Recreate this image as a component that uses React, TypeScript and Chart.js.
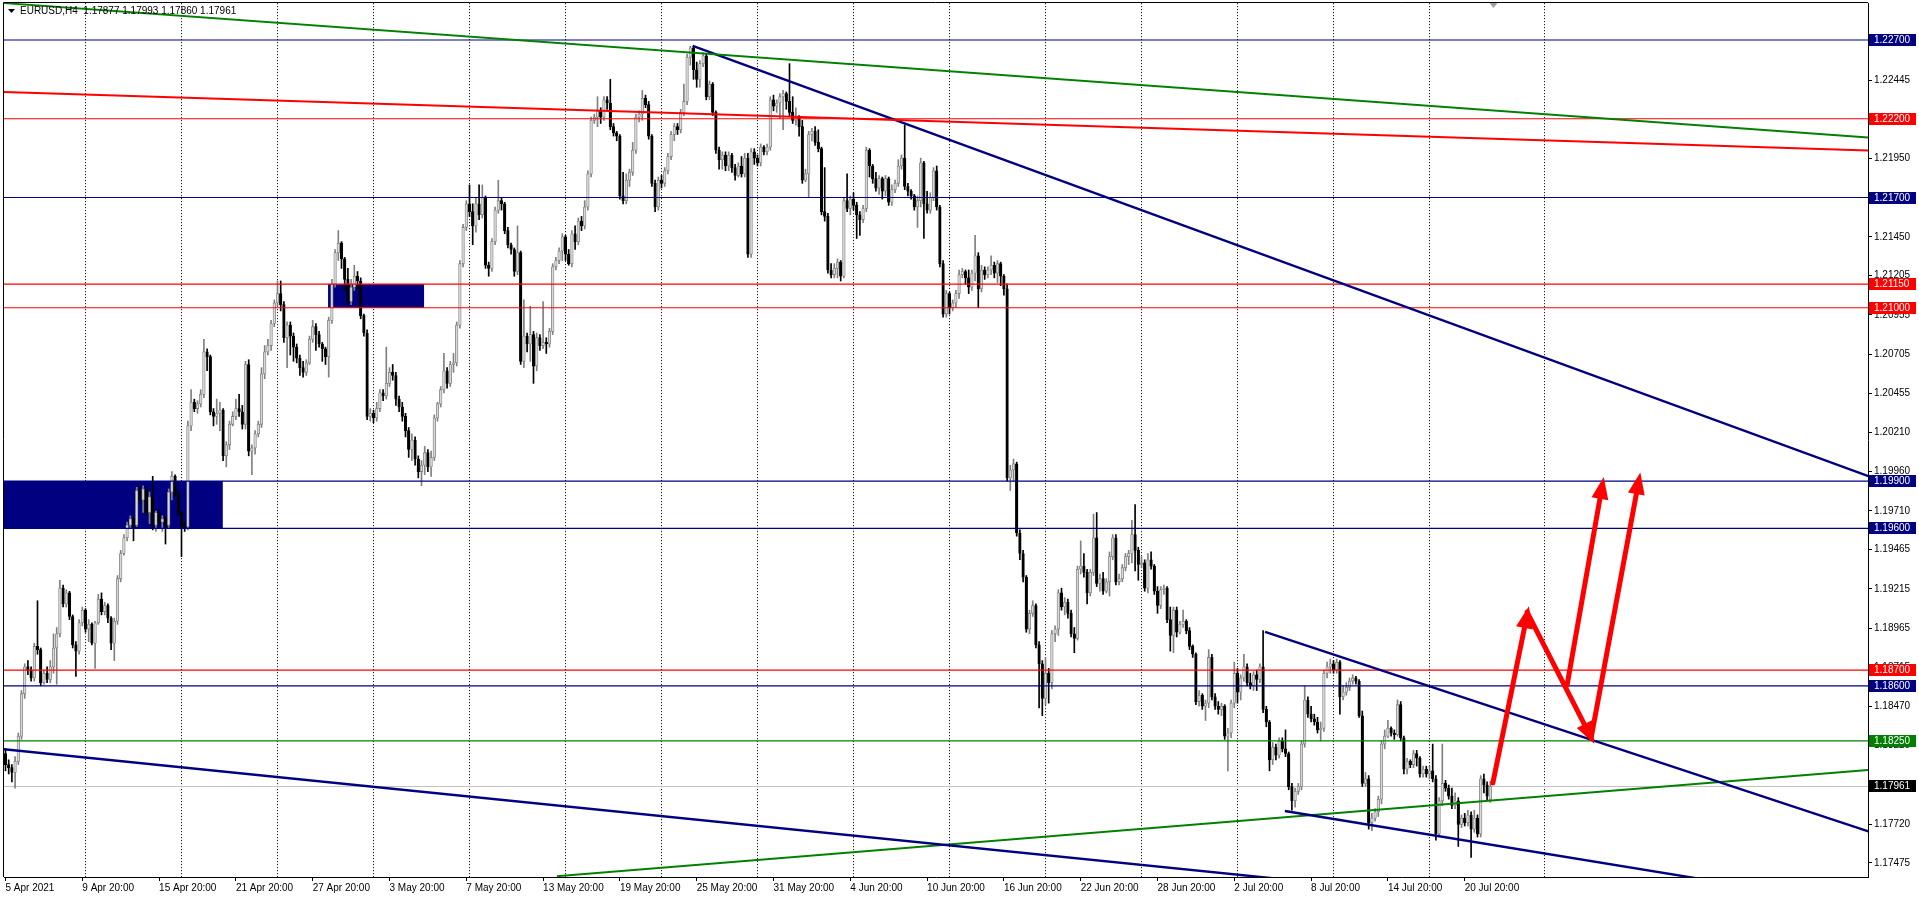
import React, { useEffect, useRef } from 'react';
import { Chart, registerables } from 'chart.js';

Chart.register(...registerables);

// ---------------- DATA ----------------
const BASE_PRICE = 1.17;
const PIP = 0.0001;
const FIRST_BAR = 5; // H4 bar index counted from 5 Apr 2021 00:00

// OHLC of every H4 bar, in pips above 1.17000
const OPEN_PIPS = [
  117,110,108,105,112,128,155,172,170,165, 185,183,162,168,164,172,184,193,222,212,
  219,204,186,182,200,208,196,199,187,200, 215,207,211,203,187,201,228,244,254,262,
  266,262,284,278,285,270,280,262,270,264, 266,262,283,293,282,270,262,261,325,340,
  336,339,345,372,369,334,331,333,335,306, 313,326,331,336,334,326,364,309,311,320,
  326,358,372,376,390,403,409,402,381,389, 382,375,368,362,359,365,380,388,383,377,
  374,369,392,415,435,441,431,418,404,413, 420,417,395,384,331,333,330,336,346,344,
  352,359,357,342,337,331,322,310,316,304, 296,300,308,299,305,330,339,348,360,352,
  364,365,389,428,451,466,461,452,466,459, 470,427,425,442,462,468,466,449,440,437,
  423,435,366,382,377,383,363,381,376,378, 377,385,426,430,436,445,434,428,447,442,
  455,452,464,485,519,521,525,521,532,530, 515,511,509,471,468,481,486,500,521,523,
  533,529,509,479,464,481,479,487,496,510, 515,513,524,531,559,565,551,545,555,560,
  534,542,524,500,494,497,490,497,489,484, 490,485,495,434,499,495,492,502,499,502,
  532,528,530,534,536,531,524,519,521,515, 481,485,510,512,505,501,461,458,424,421,
  425,429,420,468,463,469,465,459,456,463, 500,490,482,476,482,474,482,467,475,479,
  490,495,477,474,471,464,468,492,466,462, 470,487,464,428,396,409,400,403,409,421,
  423,419,413,422,433,412,424,421,424,427, 422,428,420,412,292,297,301,257,244,229,
  196,206,211,186,174,152,168,162,193,196, 219,210,213,206,193,190,234,236,232,219,
  232,254,225,228,220,226,242,254,226,228, 235,242,244,256,246,237,238,222,240,236,
  220,211,221,222,202,192,208,194,199,201, 195,185,180,150,154,147,149,178,153,147,
  145,147,128,130,149,168,156,165,172,162, 160,167,164,172,145,137,113,121,116,125,
  120,117,96,87,93,96,123,151,142,139, 137,132,133,168,172,174,170,175,153,156,
  159,163,165,163,141,98,101,73,76,80, 88,123,128,133,130,129,148,127,107,112,
  110,117,114,104,107,104,106,101,66,87, 98,95,90,84,87,72,76,73,78,69,
  76,66,101,97,87.7,
];
const HIGH_PIPS = [
  120,113,110,115,130,157,174,176,172,187, 214,184,170,172,176,193,197,227,224,221,
  220,205,188,202,210,209,202,200,201,218, 219,213,212,204,203,230,246,256,264,268,
  268,286,287,287,286,283,293,271,272,268, 267,285,296,294,284,271,264,328,348,342,
  341,348,380,374,370,336,342,340,336,315, 328,334,342,345,338,366,367,313,322,328,
  362,376,380,392,405,417,417,404,391,391, 384,377,370,366,367,382,392,390,385,378,
  375,394,418,437,449,442,432,425,418,427, 423,419,396,386,336,335,340,348,348,375,
  362,364,359,344,340,333,324,320,318,306, 303,312,310,309,332,340,350,371,362,366,
  371,391,430,453,468,478,466,470,478,478, 471,429,444,464,481,470,467,451,441,438,
  452,436,405,384,401,385,384,383,404,381, 387,428,432,438,447,446,437,449,452,457,
  458,468,487,521,523,534,527,534,534,545, 517,512,510,486,485,488,505,523,525,538,
  535,531,510,481,483,484,489,498,512,517, 517,526,542,561,566,566,556,557,562,561,
  544,543,525,502,499,499,499,498,491,492, 496,498,498,501,501,497,504,503,504,534,
  535,532,536,538,537,555,534,527,522,519, 488,512,514,515,513,502,489,460,428,428,
  431,430,470,485,471,473,467,461,465,502, 501,491,486,484,483,484,483,478,481,494,
  497,516,479,475,472,471,495,493,474,473, 489,490,465,430,411,410,405,411,424,425,
  424,424,424,446,435,427,426,426,433,429, 430,429,421,415,300,304,302,259,246,230,
  208,214,212,188,176,178,171,195,198,221, 222,216,215,208,197,236,252,244,234,234,
  269,270,231,232,228,245,256,256,231,237, 244,246,265,275,248,242,240,244,245,237,
  223,223,224,223,210,210,210,201,208,202, 197,186,181,157,155,151,183,180,155,150,
  149,148,133,151,175,171,167,180,174,168, 169,170,174,195,147,138,124,123,127,127,
  132,118,98,95,98,125,160,153,147,142, 140,137,170,175,177,176,177,176,160,162,
  165,167,166,164,144,105,103,79,82,90, 125,132,138,134,132,151,150,128,114,113,
  119,119,115,109,109,109,123,103,89,123, 100,97,95,92,89,78,79,81,80,81,
  78,103,104,99,99.3,
];
const LOW_PIPS = [
  106,104,99,95,110,126,152,167,163,163, 180,160,161,162,162,168,161,191,210,210,
  202,184,166,180,198,194,188,186,171,199, 205,205,200,183,176,199,226,243,252,260,
  252,261,276,270,268,263,259,258,262,258, 250,260,278,280,268,242,258,259,322,334,
  333,337,343,360,332,325,326,322,303,299, 310,325,329,331,323,323,306,294,307,318,
  324,355,370,373,388,401,398,378,362,370, 366,365,357,356,357,364,378,373,375,366,
  364,356,390,413,430,425,411,402,402,411, 412,393,382,329,328,327,328,334,341,342,
  350,354,338,334,328,318,305,303,300,292, 287,294,296,293,303,328,337,346,349,350,
  359,363,387,426,449,458,440,448,456,457, 425,420,423,440,460,462,447,438,434,420,
  421,364,362,372,366,352,360,373,374,371, 375,383,424,428,430,430,427,426,437,440,
  449,450,462,483,517,515,517,519,526,513, 509,506,469,466,466,477,484,498,518,519,
  527,507,477,461,462,476,477,485,494,506, 510,511,522,529,554,545,540,540,553,532,
  532,522,498,488,488,487,487,486,481,483, 483,483,432,432,491,490,490,497,497,500,
  525,524,520,513,526,522,517,516,509,479, 480,470,506,503,499,459,455,422,419,419,
  419,417,419,461,459,462,444,446,454,461, 483,479,474,472,469,471,465,465,473,477,
  488,475,471,469,462,451,464,444,460,460, 468,462,426,394,394,396,398,400,406,419,
  415,409,411,417,400,410,418,419,421,419, 416,414,408,290,284,290,255,240,226,194,
  193,204,184,146,141,148,149,158,188,192, 208,205,203,191,181,189,231,229,212,217,
  230,223,220,218,219,217,240,224,224,226, 233,237,238,233,227,235,220,219,234,218,
  206,209,218,200,182,181,191,193,197,193, 183,178,148,147,145,138,146,151,145,142,
  141,126,106,127,146,149,151,163,160,158, 157,157,162,143,134,106,110,113,114,118,
  115,94,81,83,91,94,121,140,137,135, 130,125,131,165,168,168,168,142,151,154,
  157,161,161,140,96,96,69,68,74,77, 85,120,127,128,126,128,125,104,104,108,
  108,109,102,102,102,101,99,62,64,84, 93,88,82,82,58,70,71,71,51,67,
  64,64,92,87,86,
];
const CLOSE_PIPS = [
  110,108,105,112,128,155,172,170,165,185, 183,162,168,164,172,184,193,222,212,219,
  204,186,182,200,208,196,199,187,200,215, 207,211,203,187,201,228,244,254,262,266,
  262,284,278,285,270,280,262,270,264,266, 262,283,293,282,270,262,261,325,340,336,
  339,345,372,369,334,331,333,335,306,313, 326,331,336,334,326,364,309,311,320,326,
  358,372,376,390,403,409,402,381,389,382, 375,368,362,359,365,380,388,383,377,374,
  369,392,415,435,441,431,418,404,413,420, 417,395,384,331,333,330,336,346,344,352,
  359,357,342,337,331,322,310,316,304,296, 300,308,299,305,330,339,348,360,352,364,
  365,389,428,451,466,461,452,466,459,470, 427,425,442,462,468,466,449,440,437,423,
  435,366,382,377,383,363,381,376,378,377, 385,426,430,436,445,434,428,447,442,455,
  452,464,485,519,521,525,521,532,530,515, 511,509,471,468,481,486,500,521,523,533,
  529,509,479,464,481,479,487,496,510,515, 513,524,531,559,565,551,545,555,560,534,
  542,524,500,494,497,490,497,489,484,490, 485,495,434,499,495,492,502,499,502,532,
  528,530,534,536,531,524,519,521,515,481, 485,510,512,505,501,461,458,424,421,425,
  429,420,468,463,469,465,459,456,463,500, 490,482,476,482,474,482,467,475,479,490,
  495,477,474,471,464,468,492,466,462,470, 487,464,428,396,409,400,403,409,421,423,
  419,413,422,433,412,424,421,424,427,422, 428,420,412,292,297,301,257,244,229,196,
  206,211,186,174,152,168,162,193,196,219, 210,213,206,193,190,234,236,232,219,232,
  254,225,228,220,226,242,254,226,228,235, 242,244,256,246,237,238,222,240,236,220,
  211,221,222,202,192,208,194,199,201,195, 185,180,150,154,147,149,178,153,147,145,
  147,128,130,149,168,156,165,172,162,160, 167,164,172,145,137,113,121,116,125,120,
  117,96,87,93,96,123,151,142,139,137, 132,133,168,172,174,170,175,153,156,159,
  163,165,163,141,98,101,73,76,80,88, 123,128,133,130,129,148,127,107,112,110,
  117,114,104,107,104,106,101,66,87,98, 95,90,84,87,72,76,73,78,69,76,
  66,101,97,90,96.1,
];

const X_TICK_BARS = [5,29,53,77,101,125,149,173,197,221,245,269,293,317,341,365,389,413,437,461];
const X_TICK_LABELS = [
  '5 Apr 2021','9 Apr 20:00','15 Apr 20:00','21 Apr 20:00','27 Apr 20:00','3 May 20:00',
  '7 May 20:00','13 May 20:00','19 May 20:00','25 May 20:00','31 May 20:00','4 Jun 20:00',
  '10 Jun 20:00','16 Jun 20:00','22 Jun 20:00','28 Jun 20:00','2 Jul 20:00','8 Jul 20:00',
  '14 Jul 20:00','20 Jul 20:00',
];
const WEEK_GRID_BARS = [30,60,90,120,150,180,210,240,270,300,330,360,390,420,450,486];
const Y_TICK_PRICES = [
  1.22695,1.22445,1.22195,1.2195,1.217,1.2145,1.21205,1.20955,1.20705,1.20455,1.2021,
  1.1996,1.1971,1.19465,1.19215,1.18965,1.18715,1.1847,1.1822,1.1797,1.1772,1.17475,
];

const LEVEL_PRICES = [1.227, 1.222, 1.217, 1.2115, 1.21, 1.199, 1.196, 1.187, 1.186, 1.1825];
const LEVEL_KINDS = ['navy','red','navy','red','red','navy','navy','red','navy','green'];
const LAST_PRICE = 1.17961;
const SYMBOL_TITLE = 'EURUSD,H4';
const TITLE_OHLC = [1.17877, 1.17993, 1.1786, 1.17961];

// rectangles (zones)
const BOX_FROM_BARS = [0, 105.8];
const BOX_TO_BARS = [72.9, 135.8];
const BOX_LOW_PRICES = [1.196, 1.21];
const BOX_HIGH_PRICES = [1.199, 1.2115];

// trend lines: [bar, price] pairs
const TREND_LINES = [
  { kind: 'green', from: [0, 1.22941], to: [590, 1.22077] },
  { kind: 'red', from: [0, 1.22373], to: [590, 1.21997] },
  { kind: 'navy', from: [219.75, 1.22662], to: [590, 1.1991] },
  { kind: 'navy', from: [0, 1.18207], to: [420, 1.17339] },
  { kind: 'navy', from: [398.6, 1.18943], to: [590, 1.17657] },
  { kind: 'navy', from: [404.8, 1.17805], to: [540, 1.17356] },
  { kind: 'green', from: [177.3, 1.17391], to: [590, 1.1807] },
];

// forecast arrows: [bar, price] from -> to (head at "to")
const ARROWS = [
  { from: [469.8, 1.17983], to: [480.3, 1.19030] },
  { from: [480.5, 1.19068], to: [499.8, 1.18300] },
  { from: [500.5, 1.18269], to: [515.2, 1.19880] },
  { from: [493.0, 1.18605], to: [503.8, 1.19850] },
];
const SHIFT_MARK_BAR = 470;

// ---------------- STYLE ----------------
const COLORS: Record<string, string> = { navy: '#000080', red: '#ff0000', green: '#008000' };
const FONT = "'Liberation Sans', Arial, sans-serif";
const PX_PER_BAR = 3.2;
const X_MIN = (4 + 10.5) / PX_PER_BAR;
const X_MAX = (1868 + 10.5) / PX_PER_BAR;
const Y_MAX = 1.229349;
const Y_MIN = 1.173861;

const toPrice = (p: number) => +(BASE_PRICE + p * PIP).toFixed(6);

const overlay = {
  id: 'mt4overlay',
  beforeDatasetsDraw(chart: any) {
    const { ctx, chartArea: a } = chart;
    const x = chart.scales.x, y = chart.scales.y;
    ctx.save();
    ctx.beginPath();
    ctx.rect(a.left, a.top, a.right - a.left, a.bottom - a.top);
    ctx.clip();
    ctx.fillStyle = COLORS.navy;
    for (let i = 0; i < BOX_FROM_BARS.length; i++) {
      const x0 = x.getPixelForValue(BOX_FROM_BARS[i]);
      const x1 = x.getPixelForValue(BOX_TO_BARS[i]);
      const y0 = y.getPixelForValue(BOX_HIGH_PRICES[i]);
      const y1 = y.getPixelForValue(BOX_LOW_PRICES[i]);
      ctx.fillRect(x0, y0, x1 - x0, y1 - y0);
    }
    ctx.restore();
  },
  afterDatasetsDraw(chart: any) {
    const ctx = chart.ctx;
    chart.data.datasets.forEach((ds: any, i: number) => {
      if (!ds.arrowHead) return;
      const meta = chart.getDatasetMeta(i);
      const p = meta.data[1], q = meta.data[0];
      const ang = Math.atan2(p.y - q.y, p.x - q.x);
      const c = Math.cos(ang), s = Math.sin(ang);
      const tipX = p.x + c * 12, tipY = p.y + s * 12;
      const bx = p.x - c * 10, by = p.y - s * 10;
      const W = 8.5;
      ctx.save();
      ctx.fillStyle = ds.borderColor;
      ctx.beginPath();
      ctx.moveTo(tipX, tipY);
      ctx.lineTo(bx - s * W, by + c * W);
      ctx.lineTo(bx + s * W, by - c * W);
      ctx.closePath();
      ctx.fill();
      ctx.restore();
    });
  },
  afterDraw(chart: any) {
    const { ctx, chartArea: a } = chart;
    const y = chart.scales.y, x = chart.scales.x;
    ctx.save();
    // frame
    ctx.strokeStyle = '#000';
    ctx.lineWidth = 1;
    ctx.beginPath();
    ctx.moveTo(a.left - 0.5, a.bottom);
    ctx.lineTo(a.left - 0.5, a.top - 0.5);
    ctx.lineTo(a.right, a.top - 0.5);
    ctx.stroke();
    // price labels
    ctx.font = `10px ${FONT}`;
    ctx.textBaseline = 'middle';
    ctx.textAlign = 'left';
    const drawTag = (price: number, bg: string) => {
      const py = y.getPixelForValue(price);
      ctx.fillStyle = bg;
      ctx.fillRect(a.right + 1, Math.round(py) - 6, 47, 12);
      ctx.fillStyle = '#fff';
      ctx.fillText(price.toFixed(5), a.right + 6, Math.round(py) + 0.5);
    };
    LEVEL_PRICES.forEach((p, i) => drawTag(p, COLORS[LEVEL_KINDS[i]]));
    drawTag(LAST_PRICE, '#000');
    // title
    ctx.fillStyle = '#000';
    ctx.beginPath();
    ctx.moveTo(8, 9); ctx.lineTo(15, 9); ctx.lineTo(11.5, 13);
    ctx.closePath(); ctx.fill();
    ctx.fillStyle = '#000';
    ctx.fillText(`${SYMBOL_TITLE}  ${TITLE_OHLC.map((v) => v.toFixed(5)).join(' ')}`, 20, 11.5);
    // chart shift marker
    const sx = x.getPixelForValue(SHIFT_MARK_BAR);
    ctx.fillStyle = '#a0a0a0';
    ctx.beginPath();
    ctx.moveTo(sx - 4, a.top); ctx.lineTo(sx + 4, a.top); ctx.lineTo(sx, a.top + 5);
    ctx.closePath(); ctx.fill();
    ctx.restore();
  },
};

export default function App() {
  const ref = useRef<HTMLCanvasElement>(null);
  useEffect(() => {
    const canvas = ref.current;
    if (!canvas) return;
    const bars = OPEN_PIPS.map((o, k) => ({
      bar: FIRST_BAR + k, o, h: HIGH_PIPS[k], l: LOW_PIPS[k], c: CLOSE_PIPS[k],
    }));
    const isUp = (i: number) => bars[i].c >= bars[i].o;

    const datasets: any[] = [];
    // current price line
    datasets.push({
      type: 'line', data: [{ x: X_MIN, y: LAST_PRICE }, { x: X_MAX, y: LAST_PRICE }],
      borderColor: '#c0c0c0', borderWidth: 1, pointRadius: 0, order: 20,
    });
    // candles
    datasets.push({
      type: 'bar', order: 9, grouped: false, barThickness: 1, borderWidth: 0,
      data: bars.map((b) => ({ x: b.bar, y: [toPrice(b.l), toPrice(b.h)] })),
      backgroundColor: (c: any) => (isUp(c.dataIndex) ? '#808080' : '#000000'),
    });
    datasets.push({
      type: 'bar', order: 8, grouped: false, barThickness: 2.6, minBarLength: 1,
      borderSkipped: false, borderWidth: 0.8,
      data: bars.map((b) => ({ x: b.bar, y: [toPrice(b.o), toPrice(b.c)] })),
      backgroundColor: (c: any) => (isUp(c.dataIndex) ? '#d8d8d8' : '#000000'),
      borderColor: (c: any) => (isUp(c.dataIndex) ? '#808080' : '#000000'),
    });
    // horizontal levels
    LEVEL_PRICES.forEach((p, i) => {
      datasets.push({
        type: 'line', data: [{ x: X_MIN, y: p }, { x: X_MAX, y: p }],
        borderColor: COLORS[LEVEL_KINDS[i]], borderWidth: 1.2, pointRadius: 0, order: 4,
      });
    });
    // trend lines
    TREND_LINES.forEach((t) => {
      datasets.push({
        type: 'line', data: [{ x: t.from[0], y: t.from[1] }, { x: t.to[0], y: t.to[1] }],
        borderColor: COLORS[t.kind], borderWidth: t.kind === 'navy' ? 2.4 : 2, pointRadius: 0,
        order: 3, clip: 0,
      });
    });
    // arrows
    ARROWS.forEach((ar) => {
      datasets.push({
        type: 'line', data: [{ x: ar.from[0], y: ar.from[1] }, { x: ar.to[0], y: ar.to[1] }],
        borderColor: '#ff0000', borderWidth: 5, pointRadius: 0, order: 1, arrowHead: true,
        borderCapStyle: 'round',
      });
    });

    const tickFont = { family: FONT, size: 10 };
    const chart = new Chart(canvas, {
      type: 'bar',
      data: { datasets },
      plugins: [overlay],
      options: {
        responsive: false,
        animation: false,
        events: [],
        layout: { padding: { left: 4, top: 3, right: 0, bottom: 0 } },
        plugins: { legend: { display: false }, tooltip: { enabled: false }, title: { display: false } },
        scales: {
          x: {
            type: 'linear', position: 'bottom', min: X_MIN, max: X_MAX, offset: false,
            afterBuildTicks: (s: any) => { s.ticks = X_TICK_BARS.map((v) => ({ value: v })); },
            afterFit: (s: any) => { s.height = 20; s.paddingLeft = 0; s.paddingRight = 0; },
            ticks: {
              autoSkip: false, maxRotation: 0, minRotation: 0, align: 'start', padding: 1,
              color: '#000', font: tickFont,
              callback: (_v: any, i: number) => X_TICK_LABELS[i],
            },
            grid: { offset: false, drawOnChartArea: false, drawTicks: true, tickLength: 4, color: '#000', lineWidth: 1 },
            border: { display: true, color: '#000', width: 1 },
          },
          xWeek: {
            type: 'linear', position: 'top', min: X_MIN, max: X_MAX, offset: false,
            afterBuildTicks: (s: any) => { s.ticks = WEEK_GRID_BARS.map((v) => ({ value: v })); },
            afterFit: (s: any) => { s.height = 0; s.paddingLeft = 0; s.paddingRight = 0; },
            ticks: { display: false },
            grid: { offset: false, drawOnChartArea: true, drawTicks: false, color: '#222', lineWidth: 1, borderDash: [1.2, 1.8] },
            border: { display: false, dash: [1.2, 1.8] },
          },
          y: {
            type: 'linear', position: 'right', min: Y_MIN, max: Y_MAX,
            afterBuildTicks: (s: any) => { s.ticks = Y_TICK_PRICES.map((v) => ({ value: v })); },
            afterFit: (s: any) => { s.width = 51; s.paddingTop = 0; s.paddingBottom = 0; },
            ticks: { padding: 2, color: '#000', font: tickFont, callback: (v: any) => Number(v).toFixed(5) },
            grid: { drawOnChartArea: false, drawTicks: true, tickLength: 4, color: '#000' },
            border: { display: true, color: '#000', width: 1 },
          },
        },
      } as any,
    });
    return () => chart.destroy();
  }, []);

  return (
    <div style={{ position: 'absolute', left: 0, top: 0, width: 1919, height: 897, background: '#fff' }}>
      <canvas ref={ref} width={1919} height={897} style={{ display: 'block', width: 1919, height: 897 }} />
    </div>
  );
}
